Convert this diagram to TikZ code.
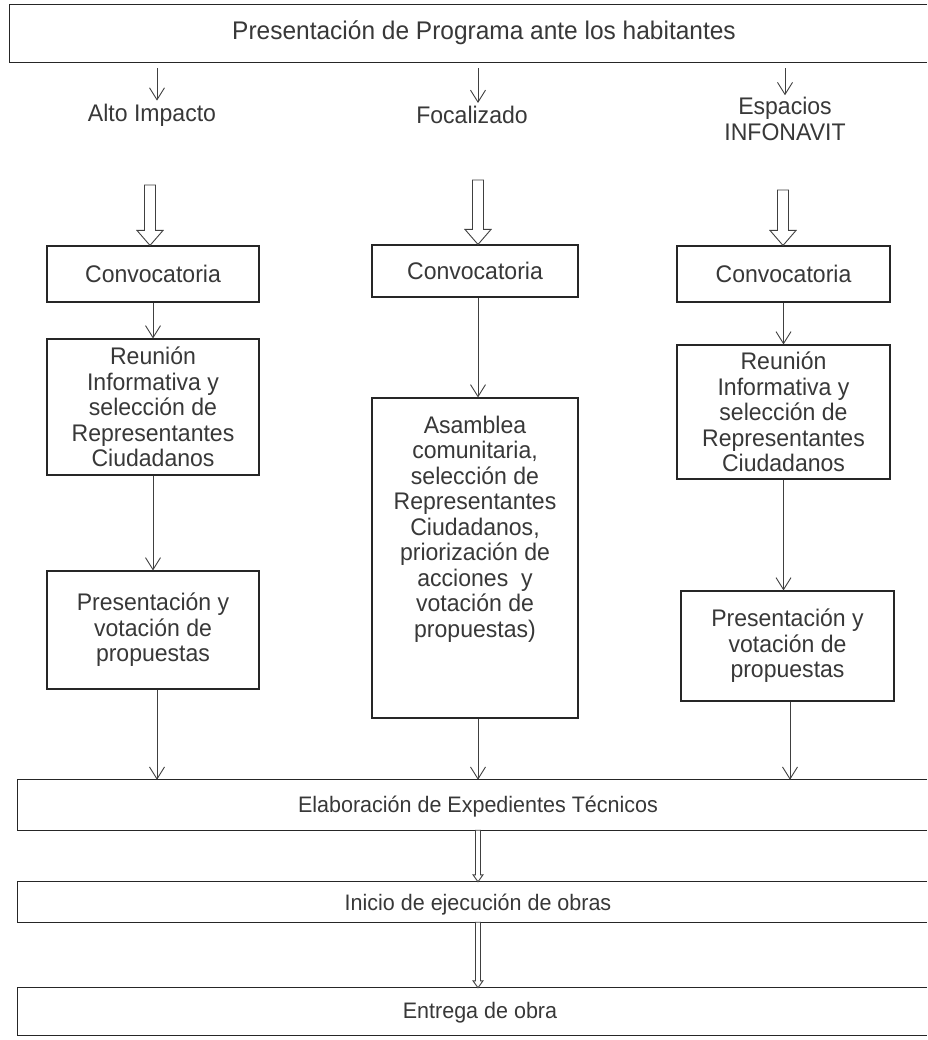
\documentclass[tikz,border=0pt]{standalone}
\usepackage{fontspec}
\setmainfont{Liberation Sans}[FakeStretch=0.96]
\usetikzlibrary{arrows.meta,calc}
\newcommand\hollowarrow[5]{%
  \draw[hollowst] let \p1=(#1), \p2=(#2) in
   (\x2-#3,\y1) -- (\x2-#3,\y2+#5) -- (\x2-#4,\y2+#5) -- (\x2,\y2)
   -- (\x2+#4,\y2+#5) -- (\x2+#3,\y2+#5) -- (\x2+#3,\y1) -- cycle;}
\begin{document}
\begin{tikzpicture}[x=1pt,y=-1pt,
  every node/.style={font=\fontsize{24}{25.5}\selectfont, text=black!78, inner sep=0pt, align=center},
  barfont/.style={font=\fontsize{22.4}{25}\selectfont},
  frame/.style={draw=black!85, line width=1.1pt},
  barframe/.style={draw=black!85, line width=1.3pt},
  arr/.style={draw=black!75, line width=0.9pt, -{Straight Barb[length=12pt,width=15pt,line width=0.9pt]}},
  hollowst/.style={draw=black!75, line width=0.9pt, fill=white, line join=miter}
]
\useasboundingbox (0,0) rectangle (927,1040);
\fill[white] (0,0) rectangle (927,1040);

% top bar
\node[minimum width=917pt, minimum height=57pt] (topbar) at (468.5,33.5) {};
\draw[barframe] (topbar.north east) -- (topbar.north west) -- (topbar.south west) -- (topbar.south east);
\node[font=\fontsize{25.5}{28}\selectfont] (toptext) at (484,33) {Presentación de Programa ante los habitantes};

% category labels
\node (alto) at (152,115) {Alto Impacto};
\node (foc) at (472,115) {Focalizado};
\node (esp) at (785,119) {Espacios\\INFONAVIT};

\coordinate (t1) at (157,62);
\coordinate (t2) at (478,62);
\coordinate (t3) at (785,62);
\draw[arr] ([yshift=-6pt]topbar.south -| t1) -- ([yshift=3pt]alto.north -| t1);
\draw[arr] ([yshift=-6pt]topbar.south -| t2) -- ([yshift=3pt]foc.north -| t2);
\draw[arr] ([yshift=-6pt]topbar.south -| t3) -- ([yshift=2pt]esp.north -| t3);

% Convocatoria boxes
\node[frame, minimum width=212pt, minimum height=56pt] (c1) at (153,274) {Convocatoria};
\node[frame, minimum width=206pt, minimum height=52pt] (c2) at (475,271) {Convocatoria};
\node[frame, minimum width=213pt, minimum height=56pt] (c3) at (783.5,274) {Convocatoria};

% hollow arrows
\coordinate (h1) at (150,185);
\coordinate (h2) at (478,180);
\coordinate (h3) at (783,190);
\hollowarrow{h1}{c1.north -| h1}{5.5pt}{13pt}{15pt}
\hollowarrow{h2}{c2.north -| h2}{5.5pt}{13pt}{15pt}
\hollowarrow{h3}{c3.north -| h3}{5.5pt}{13pt}{15pt}

% second row
\node[frame, minimum width=212pt, minimum height=136pt] (r1) at (153,407)
  {Reunión\\Informativa y\\selección de\\Representantes\\Ciudadanos};
\node[frame, minimum width=206pt, minimum height=320pt] (a2) at (475,558) {};
\node (a2t) at (475,529) {Asamblea\\comunitaria,\\selección de\\Representantes\\Ciudadanos,\\priorización de\\acciones\ \ y\\votación de\\propuestas)};
\node[frame, minimum width=213pt, minimum height=134pt] (r3) at (783.5,412)
  {Reunión\\Informativa y\\selección de\\Representantes\\Ciudadanos};

% third row
\node[frame, minimum width=212pt, minimum height=118pt] (p1) at (153,630)
  {Presentación y\\votación de\\propuestas};
\node[frame, minimum width=213pt, minimum height=110pt] (p3) at (787.5,646)
  {Presentación y\\votación de\\propuestas};

\draw[arr] (c1.south) -- (r1.north);
\draw[arr] (c2.south -| h2) -- (a2.north -| h2);
\draw[arr] (c3.south) -- (r3.north);
\draw[arr] (r1.south) -- (p1.north);
\draw[arr] (r3.south) -- (p3.north -| r3.south);

% bottom bars
\node[minimum width=909pt, minimum height=50pt] (elab) at (472.5,805) {};
\draw[barframe] (elab.north east) -- (elab.north west) -- (elab.south west) -- (elab.south east);
\node[barfont] (elabt) at (478,807) {Elaboración de Expedientes Técnicos};

\node[minimum width=909pt, minimum height=40pt] (ini) at (472.5,902) {};
\draw[barframe] (ini.north east) -- (ini.north west) -- (ini.south west) -- (ini.south east);
\node[barfont] (init) at (478,905) {Inicio de ejecución de obras};

\node[minimum width=909pt, minimum height=47pt] (ent) at (472.5,1011.5) {};
\draw[barframe] (ent.north east) -- (ent.north west) -- (ent.south west) -- (ent.south east);
\node[barfont] (entt) at (480,1013) {Entrega de obra};

\coordinate (e1) at (157,700);
\coordinate (e3) at (790,700);
\draw[arr] (p1.south -| e1) -- (elab.north -| e1);
\draw[arr] (a2.south -| h2) -- (elab.north -| h2);
\draw[arr] (p3.south -| e3) -- (elab.north -| e3);

\hollowarrow{elab.south -| h2}{ini.north -| h2}{2.5pt}{5pt}{7pt}
\hollowarrow{ini.south -| h2}{ent.north -| h2}{2.5pt}{5pt}{7pt}
\end{tikzpicture}
\end{document}
